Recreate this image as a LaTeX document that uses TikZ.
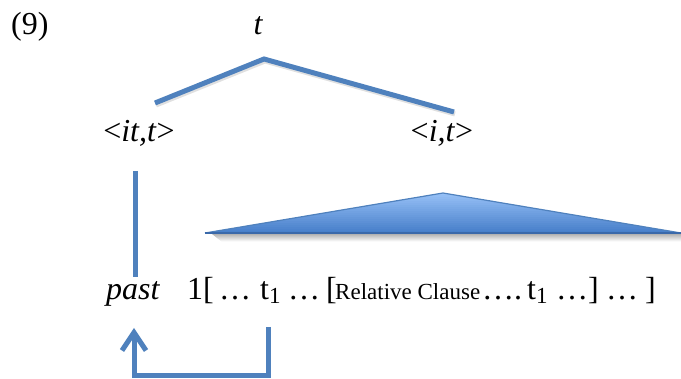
\documentclass[tikz,border=0pt]{standalone}
\usepackage{fontspec}
\setmainfont{Liberation Serif}
\usetikzlibrary{arrows.meta}
\definecolor{lineblue}{RGB}{79,129,189}
\definecolor{tritop}{RGB}{150,192,246}
\definecolor{tribot}{RGB}{68,124,200}
\newcommand{\subone}{\raisebox{-4pt}{\fontsize{23}{26}\selectfont 1}}
\begin{document}
\begin{tikzpicture}[x=1pt,y=-1pt,
  txt/.style={inner sep=0pt,font=\fontsize{32}{38}\selectfont},
  small/.style={inner sep=0pt,font=\fontsize{23}{26}\selectfont},
  branch/.style={draw=lineblue,line width=5pt},
  shade/.style={draw=black!35,line width=5pt,opacity=0.35}]
\useasboundingbox (0,0) rectangle (681,379);
% labels
\node[txt,anchor=base west] (num) at (11,35) {(9)};
\node[txt,anchor=base] (top) at (258,35) {\itshape t};
\node[txt,anchor=base] (left) at (139,142) {<\itshape it,t\/\upshape>};
\node[txt,anchor=base] (right) at (442,142) {<\itshape i,t\/\upshape>};
% sentence
\node[txt,anchor=base west] (past) at (106,300) {\itshape past};
\node[txt,anchor=base west] (w1) at (187,300) {1[};
\node[txt,anchor=base west] (w2) at (219,300) {…};
\node[txt,anchor=base west] (w3) at (260,300) {t\subone};
\node[txt,anchor=base west] (w4) at (288,300) {…};
\node[txt,anchor=base west] (w5) at (326,300) {[};
\node[small,anchor=base west] (rc) at (335,300) {Relative Clause};
\node[txt,anchor=base west] (w6) at (482,300) {….};
\node[txt,anchor=base west] (w7) at (527,300) {t\subone};
\node[txt,anchor=base west] (w8) at (556,300) {…]};
\node[txt,anchor=base west] (w9) at (606,300) {…};
\node[txt,anchor=base west] (w10) at (645,300) {]};
% tree coordinates
\coordinate (apex) at (264,59);
\coordinate (lend) at (155,103);
\coordinate (rend) at (454,112);
\draw[shade] ([shift={(1,2)}]lend) -- ([shift={(1,2)}]apex) -- ([shift={(1,2)}]rend);
\draw[branch] (lend) -- (apex) -- (rend);
% vertical line
\coordinate (vtop) at (135,171);
\coordinate (vbot) at (135,277);
\draw[branch] (vtop) -- (vbot);
% triangle
\coordinate (tl) at (205,233);
\coordinate (ta) at (443,193);
\coordinate (tr) at (681,233);
\begin{scope}
\clip (212,234) -- (681,234) -- (681,242) -- (222,242) -- cycle;
\foreach \j in {0,...,7} {
  \pgfmathtruncatemacro\q{30-\j*4}
  \fill[black!\q] (200,{234+\j}) rectangle (681,{235.2+\j});
}
\end{scope}
\begin{scope}
\clip (tl) -- (ta) -- (tr) -- cycle;
\foreach \i in {0,...,20} {
  \pgfmathtruncatemacro\p{\i*5}
  \fill[tribot!\p!tritop] (200,{193+2*\i}) rectangle (681,{195.3+2*\i});
}
\end{scope}
\draw[lineblue,line width=1.2pt,line join=round] (tl) -- (ta) -- (tr);
\draw[tribot!85!black,line width=1.5pt] (tl) -- (tr);
% arrow
\coordinate (t1foot) at (268,327);
\coordinate (corner1) at (268,376);
\coordinate (corner2) at (134,376);
\coordinate (pastfoot) at (134,328);
\draw[branch,-{Straight Barb[length=18pt,width=24pt,line width=5pt]}] (t1foot) -- (corner1) -- (corner2) -- (pastfoot);
\end{tikzpicture}
\end{document}
